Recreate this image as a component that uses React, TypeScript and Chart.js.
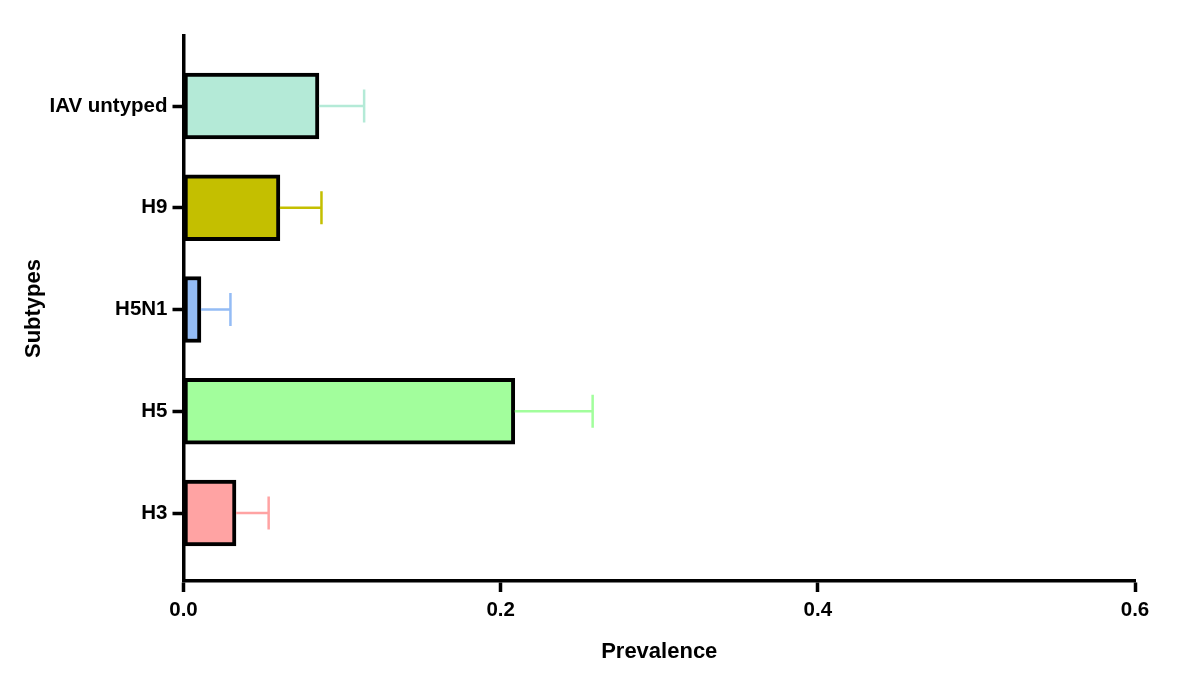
import React, { useEffect, useRef } from "react";
import { Chart, registerables } from "chart.js";

Chart.register(...registerables);

// Categories listed bottom-to-top (H3 at the bottom, IAV untyped at the top)
const categories = ["H3", "H5", "H5N1", "H9", "IAV untyped"];
const prevalence = [0.0331, 0.2089, 0.011, 0.0608, 0.0854];
const upperError = [0.0537, 0.258, 0.0296, 0.087, 0.1139];
const fillColors = ["#ffa3a3", "#a2fe9c", "#94bcf5", "#c4bf00", "#b4ead7"];
const xTicks = [0, 0.2, 0.4, 0.6];

const errorBarPlugin = {
  id: "errorBars",
  afterDatasetsDraw(chart: any) {
    const ctx = chart.ctx;
    const meta = chart.getDatasetMeta(0);
    const xScale = chart.scales.x;
    ctx.save();
    meta.data.forEach((bar: any, i: number) => {
      const x0 = xScale.getPixelForValue(prevalence[i]);
      const x1 = xScale.getPixelForValue(upperError[i]);
      const y = bar.y;
      const cap = 16.5;
      ctx.strokeStyle = fillColors[i];
      ctx.lineWidth = 2.5;
      ctx.beginPath();
      ctx.moveTo(x0, y);
      ctx.lineTo(x1, y);
      ctx.moveTo(x1, y - cap);
      ctx.lineTo(x1, y + cap);
      ctx.stroke();
    });
    ctx.restore();
  },
};

export default function App() {
  const canvasRef = useRef<HTMLCanvasElement | null>(null);

  useEffect(() => {
    document.body.style.margin = "0";
    const canvas = canvasRef.current;
    if (!canvas) return;
    const font = "'Liberation Sans', Arial, sans-serif";
    const chart = new Chart(canvas, {
      type: "bar",
      data: {
        datasets: [
          {
            data: categories.map((_, i) => ({ x: prevalence[i], y: i })),
            backgroundColor: fillColors,
            borderColor: "#000000",
            borderWidth: 4,
            borderSkipped: false,
            barThickness: 66,
          },
        ],
      },
      options: {
        indexAxis: "y",
        animation: false,
        responsive: false,
        devicePixelRatio: 1,
        layout: { padding: { top: 36, right: 65, left: 0, bottom: 0 } },
        plugins: {
          legend: { display: false },
          tooltip: { enabled: false },
        },
        scales: {
          x: {
            type: "linear",
            min: 0,
            max: 0.6,
            afterBuildTicks: (scale: any) => {
              scale.ticks = xTicks.map((v) => ({ value: v }));
            },
            afterFit: (scale: any) => {
              scale.height = 104;
            },
            border: { display: true, color: "#000", width: 3.5 },
            grid: {
              drawOnChartArea: false,
              drawTicks: true,
              tickLength: 11,
              tickWidth: 3.5,
              tickColor: "#000",
            },
            ticks: {
              color: "#000",
              padding: 6,
              font: { family: font, size: 20.5, weight: "bold" },
              maxRotation: 0,
              callback: (v: any) => Number(v).toFixed(1),
            },
            title: {
              display: true,
              text: "Prevalence",
              color: "#000",
              font: { family: font, size: 22, weight: "bold" },
              padding: { bottom: 20 },
            },
          },
          y: {
            type: "linear",
            min: -0.668,
            max: 4.688,
            offset: false,
            afterBuildTicks: (scale: any) => {
              scale.ticks = categories.map((_, i) => ({ value: i }));
            },
            afterFit: (scale: any) => {
              scale.width = 183.5;
            },
            border: { display: true, color: "#000", width: 3.5 },
            grid: {
              offset: false,
              drawOnChartArea: false,
              drawTicks: true,
              tickLength: 11,
              tickWidth: 3.5,
              tickColor: "#000",
            },
            ticks: {
              color: "#000",
              padding: 5,
              font: { family: font, size: 20.5, weight: "bold" },
              callback: (v: any) => categories[Math.round(Number(v))] ?? "",
            },
            title: {
              display: true,
              text: "Subtypes",
              color: "#000",
              font: { family: font, size: 22, weight: "bold" },
              padding: { top: 21 },
            },
          },
        },
      },
      plugins: [errorBarPlugin],
    });
    return () => chart.destroy();
  }, []);

  return (
    <div style={{ position: "absolute", left: 0, top: 0, width: 1200, height: 685, background: "#fff" }}>
      <canvas ref={canvasRef} width={1200} height={685} />
    </div>
  );
}
